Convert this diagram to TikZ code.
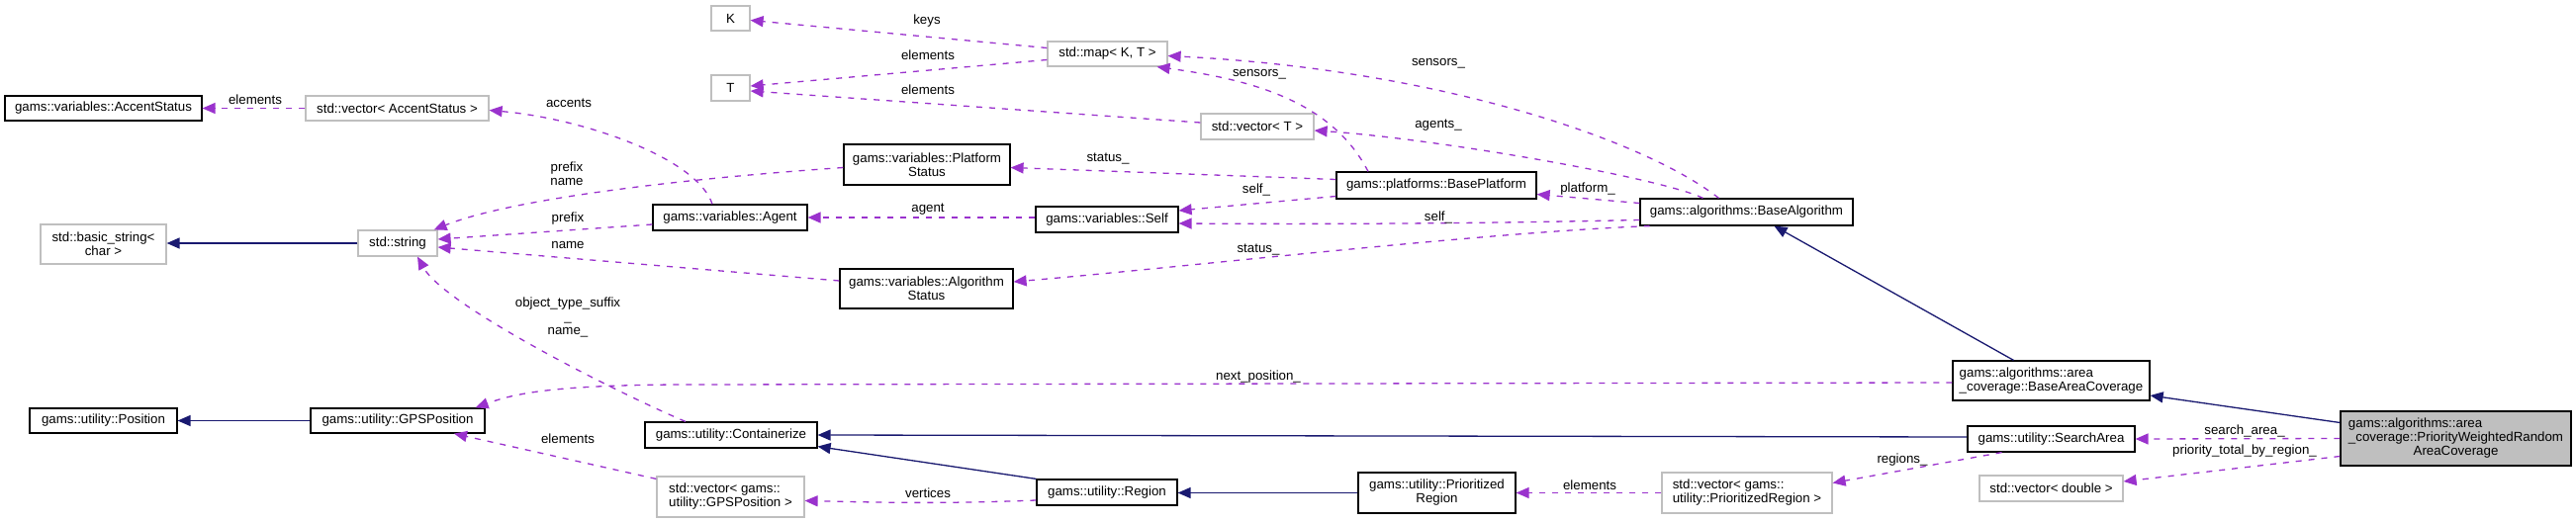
\documentclass[tikz,border=0pt]{standalone}
\usepackage{fontspec}
\setmainfont{Liberation Sans}
\usetikzlibrary{arrows.meta,calc}
\definecolor{depc}{HTML}{9A32CD}
\definecolor{inhc}{HTML}{191970}
\definecolor{extc}{HTML}{BFBFBF}
\begin{document}
\begin{tikzpicture}[x=1pt,y=-1pt,
  every node/.style={font=\fontsize{13.3}{14}\selectfont, inner sep=1pt},
  wh/.style 2 args={minimum width=#1pt, minimum height=#2pt},
  cls/.style={draw=black, line width=1.2pt, fill=white, align=center},
  extcls/.style={draw=extc, line width=1.2pt, fill=white, align=center},
  maincls/.style={draw=black, line width=1.2pt, fill=extc, align=center},
  dep/.style={draw=depc, line width=1.3pt, dash pattern=on 6pt off 7pt, -{Triangle[length=13pt,width=11pt,fill=depc]}},
  inh/.style={draw=inhc, line width=1.3pt, -{Triangle[length=13pt,width=11pt,fill=inhc]}},
  lbl/.style={inner sep=0pt, align=center, text=black}]
\useasboundingbox (0,0) rectangle (2604,529);
\fill[white] (0,0) rectangle (2604,529);

% nodes
\node[extcls,wh={39}{25}] (K) at (738.5,18.5) {K};
\node[extcls,wh={39}{26}] (T) at (738.5,89) {T};
\node[extcls,wh={121}{25}] (map) at (1119.5,54.5) {std::map< K, T >};
\node[extcls,wh={114}{26}] (vecT) at (1271,128) {std::vector< T >};
\node[cls,wh={199}{25}] (acc) at (104.5,109.5) {gams::variables::AccentStatus};
\node[extcls,wh={185}{25}] (vacc) at (401.5,109.5) {std::vector< AccentStatus >};
\node[cls,wh={168}{41}] (pstat) at (937,166.5) {gams::variables::Platform\\Status};
\node[cls,wh={202}{27}] (bplat) at (1452,187.5) {gams::platforms::BasePlatform};
\node[cls,wh={156}{26}] (agent) at (738,220) {gams::variables::Agent};
\node[cls,wh={144}{26}] (self) at (1119,222) {gams::variables::Self};
\node[cls,wh={215}{27}] (balg) at (1765.5,214.5) {gams::algorithms::BaseAlgorithm};
\node[extcls,wh={127}{40}] (bstr) at (104.5,247) {std::basic\_string<\\char >};
\node[extcls,wh={80}{26}] (str) at (402,246) {std::string};
\node[cls,wh={175}{40}] (astat) at (936.5,292) {gams::variables::Algorithm\\Status};
\node[cls,wh={199}{40}] (bac) at (2073.5,385) {\rlap{gams::algorithms::area}\phantom{\_coverage::BaseAreaCoverage}\\\_coverage::BaseAreaCoverage};
\node[cls,wh={149}{25}] (pos) at (104.5,425.5) {gams::utility::Position};
\node[cls,wh={176}{25}] (gps) at (402,425.5) {gams::utility::GPSPosition};
\node[cls,wh={174}{26}] (cont) at (739,440) {gams::utility::Containerize};
\node[cls,wh={169}{26}] (sarea) at (2073.5,444) {gams::utility::SearchArea};
\node[maincls,wh={233}{55}] (pw) at (2482.5,443.5) {\rlap{gams::algorithms::area}\phantom{\_coverage::PriorityWeightedRandom}\\\_coverage::PriorityWeightedRandom\\AreaCoverage};
\node[extcls,wh={149}{41}] (vgps) at (738.5,502.5) {\rlap{std::vector< gams::}\phantom{utility::GPSPosition >}\\utility::GPSPosition >};
\node[cls,wh={142}{26}] (region) at (1119,498) {gams::utility::Region};
\node[cls,wh={159}{41}] (preg) at (1452.5,498.5) {gams::utility::Prioritized\\Region};
\node[extcls,wh={172}{41}] (vpr) at (1766,498.5) {\rlap{std::vector< gams::}\phantom{utility::PrioritizedRegion >}\\utility::PrioritizedRegion >};
\node[extcls,wh={145}{26}] (vdbl) at (2073.5,494) {std::vector< double >};

% connectors
\draw[dep] ([yshift=6pt]map.west) -- ([yshift=-2pt]K.east);
\draw[dep] ([yshift=-6pt]map.west) -- ([yshift=2pt]T.east);
\draw[dep] ([yshift=4pt]vecT.west) -- ([yshift=-3pt]T.east);
\draw[dep] (vacc.west) -- (acc.east);
\draw[dep] ([xshift=-18pt]agent.north) .. controls (705,160) and (590,120) .. ([yshift=-2pt]vacc.east);
\draw[dep] ([yshift=-3pt]pstat.west) .. controls (700,180) and (520,200) .. ([xshift=-4pt]str.north east);
\draw[dep] ([yshift=-7pt]agent.west) -- ([yshift=4pt]str.east);
\draw[dep] ([yshift=8pt]astat.west) -- ([yshift=-4pt]str.east);
\draw[inh] (str.west) -- (str.west -| bstr.east);
\draw[dep] ([xshift=-46pt]cont.north) .. controls (630,400) and (450,310) .. ([xshift=20pt]str.south);
\draw[dep] ([yshift=6pt]bplat.west) -- ([yshift=-3pt]pstat.east);
\draw[dep] ([xshift=-69pt]bplat.north) .. controls (1345,100) and (1260,80) .. ([xshift=50pt]map.south);
\draw[dep] ([yshift=-11pt]bplat.west) -- ([yshift=9pt]self.east);
\draw[dep] (self.west |- agent.east) -- (agent.east);
\draw[dep] ([xshift=-28pt]balg.north) .. controls (1660,140) and (1450,70) .. ([yshift=-2pt]map.east);
\draw[dep] ([xshift=-44pt]balg.north) .. controls (1680,180) and (1450,140) .. ([yshift=-4pt]vecT.east);
\draw[dep] ([yshift=9pt]balg.west) -- ([yshift=-9pt]bplat.east);
\draw[dep] ([yshift=-8pt]balg.west) .. controls (1500,226) and (1350,227) .. ([yshift=-4pt]self.east);
\draw[dep] ([xshift=-98pt]balg.south) .. controls (1500,235) and (1200,270) .. ([yshift=7pt]astat.east);
\draw[inh] ([xshift=-38pt]bac.north) -- ([xshift=28pt]balg.south);
\draw[dep] ([yshift=-2pt]bac.west) -- (700,389) .. controls (560,389) and (520,398) .. ([xshift=-10pt]gps.north east);
\draw[inh] ([yshift=16pt]pw.west) -- ([yshift=-15pt]bac.east);
\draw[dep] (pw.west) -- (sarea.east);
\draw[dep] ([yshift=-18pt]pw.west) -- ([yshift=7pt]vdbl.east);
\draw[inh] ([yshift=2pt]sarea.west) -- (cont.east);
\draw[inh] (region.north west) -- ([yshift=2pt]cont.south east);
\draw[dep] ([yshift=-8pt]region.west) .. controls (950,510) and (880,508) .. ([yshift=-4pt]vgps.east);
\draw[dep] ([yshift=-3pt]vgps.north west) -- ([xshift=57pt]gps.south);
\draw[inh] (gps.west) -- (pos.east);
\draw[inh] (preg.west) -- (preg.west -| region.east);
\draw[dep] (vpr.west) -- (vpr.west -| preg.east);
\draw[dep] ([xshift=-50pt]sarea.south) -- ([yshift=10pt]vpr.east);

% labels
\node[lbl] (l1) at (937,21) {keys};
\node[lbl] (l2) at (938,56) {elements};
\node[lbl] (l3) at (938,91) {elements};
\node[lbl] (l4) at (258,101) {elements};
\node[lbl] (l5) at (575,104) {accents};
\node[lbl] (l6) at (573,175.5) {prefix\\name};
\node[lbl] (l7) at (574,221) {prefix};
\node[lbl] (l8) at (574,248) {name};
\node[lbl] (l9) at (574,321) {object\_type\_suffix\\\_\\name\_};
\node[lbl] (l10) at (1120,161) {status\_};
\node[lbl] (l11) at (1273,75) {sensors\_};
\node[lbl] (l12) at (1270,192) {self\_};
\node[lbl] (l13) at (938,212) {agent};
\node[lbl] (l14) at (1454,64) {sensors\_};
\node[lbl] (l15) at (1454,127) {agents\_};
\node[lbl] (l16) at (1605,191) {platform\_};
\node[lbl] (l17) at (1454,220) {self\_};
\node[lbl] (l18) at (1272,253) {status\_};
\node[lbl] (l19) at (1272,381) {next\_position\_};
\node[lbl] (l20) at (2269,436) {search\_area\_};
\node[lbl] (l21) at (2269,456) {priority\_total\_by\_region\_};
\node[lbl] (l22) at (938,499) {vertices};
\node[lbl] (l23) at (574,444) {elements};
\node[lbl] (l24) at (1607,491) {elements};
\node[lbl] (l25) at (1923,465) {regions\_};
\end{tikzpicture}
\end{document}
